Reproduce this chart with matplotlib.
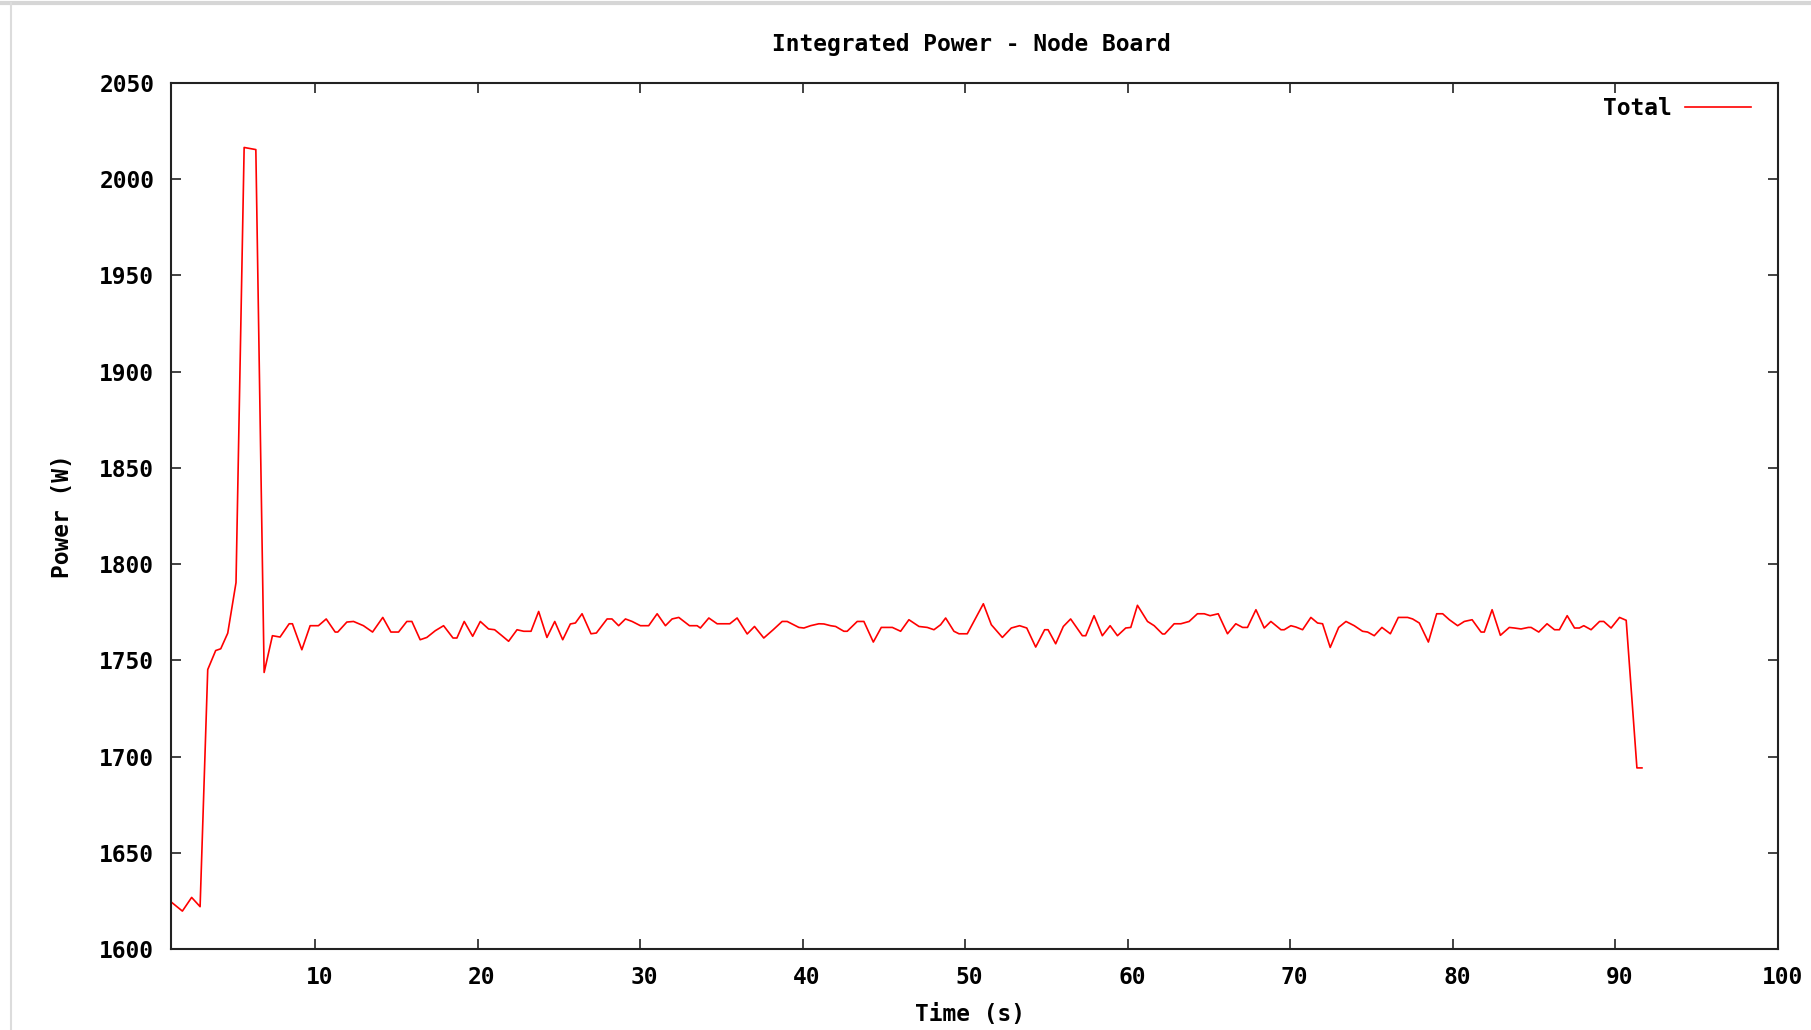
import matplotlib
matplotlib.use('Agg')
import matplotlib.pyplot as plt
import matplotlib.transforms as mtransforms
from matplotlib.lines import Line2D

# Node board power samples (time in s, power in W)
time_s = [1.13, 1.83, 2.40, 2.92, 3.39, 3.88, 4.19, 4.62, 5.13, 5.63, 6.35,
          6.86, 7.37, 7.84, 8.40, 8.60, 9.18, 9.69, 10.20, 10.68, 11.23, 11.39,
          11.95, 12.36, 12.97, 13.53, 14.16, 14.66, 15.13, 15.64, 15.95, 16.46,
          16.87, 17.39, 17.90, 18.48, 18.72, 19.17, 19.69, 20.16, 20.67, 21.04,
          21.49, 21.90, 22.42, 22.83, 23.28, 23.75, 24.26, 24.74, 25.23, 25.70,
          26.01, 26.42, 26.97, 27.30,
          27.96, 28.26, 28.67, 29.09, 29.50, 30.01, 30.52, 31.04, 31.55, 31.96,
          32.37, 33.03, 33.50, 33.70, 34.22, 34.73, 35.14, 35.51, 35.96, 36.58,
          37.03, 37.60, 38.18, 38.73, 39.04, 39.76, 40.07, 40.48, 40.99, 41.30,
          41.71, 42.02, 42.53, 42.73, 43.35, 43.76, 44.34, 44.83, 45.51, 46.02,
          46.53, 47.15, 47.66, 48.07,
          48.48, 48.79, 49.30, 49.61, 50.12, 50.64, 51.11, 51.60, 52.28, 52.83,
          53.34, 53.78, 54.33, 54.88, 55.09, 55.56, 56.03, 56.48, 57.20, 57.41,
          57.92, 58.43, 58.91, 59.36, 59.87, 60.18, 60.59, 61.21, 61.62, 62.13,
          62.27, 62.85, 63.26, 63.77, 64.28, 64.70, 65.06, 65.56, 66.13, 66.64,
          67.06, 67.36, 67.88, 68.39, 68.80, 69.42, 69.62,
          70.03, 70.34, 70.75, 71.26, 71.67, 71.98, 72.45, 72.97, 73.42, 73.93,
          74.44, 74.75, 75.16, 75.63, 76.15, 76.64, 77.21, 77.52, 77.93, 78.49,
          79.00, 79.37, 79.78, 80.29, 80.70, 81.18, 81.73, 81.93, 82.41, 82.92,
          83.47, 83.78, 84.19, 84.64, 84.81, 85.28, 85.79, 86.25, 86.55, 87.03,
          87.48, 87.78, 88.05, 88.50, 89.02, 89.28, 89.73, 90.25, 90.66, 91.32,
          91.63]

power_w = [1624.5, 1619.7, 1626.8, 1622.0, 1745.2, 1755.1, 1756.0, 1764.1, 1790.4, 2016.5, 2015.4,
           1743.7, 1762.8, 1762.1, 1769.0, 1769.0, 1755.5, 1768.0, 1768.0, 1771.5, 1764.7, 1764.7,
           1769.9, 1770.2, 1768.0, 1764.7, 1772.3, 1764.7, 1764.7, 1770.2, 1770.2, 1760.7,
           1761.9, 1765.4, 1768.0, 1761.6, 1761.6, 1770.2, 1762.5, 1770.2, 1766.3, 1765.9,
           1762.8, 1759.9, 1765.9, 1765.1, 1765.1, 1775.4, 1761.9, 1770.2, 1760.7, 1768.9,
           1769.4, 1774.2, 1763.8, 1764.2,
           1771.5, 1771.5, 1768.0, 1771.5, 1770.2, 1768.0, 1768.0, 1774.2, 1768.0, 1771.5,
           1772.3, 1768.0, 1768.0, 1766.8, 1772.0, 1769.0, 1769.0, 1769.0, 1772.0, 1763.7,
           1767.6, 1761.6, 1765.9, 1770.2, 1770.2, 1767.1, 1766.8, 1768.0, 1769.0, 1768.9,
           1768.0, 1767.6, 1765.1, 1765.1, 1770.2, 1770.2, 1759.5, 1767.1, 1767.1, 1765.1,
           1771.1, 1767.6, 1767.1, 1765.9,
           1768.5, 1772.0, 1765.1, 1763.8, 1763.8, 1772.0, 1779.4, 1768.5, 1761.9, 1766.8,
           1768.0, 1766.8, 1756.9, 1765.9, 1765.9, 1758.6, 1767.6, 1771.5, 1762.8, 1762.8,
           1773.2, 1762.8, 1768.0, 1762.8, 1766.8, 1767.1, 1778.6, 1770.2, 1768.0, 1763.7,
           1763.7, 1769.0, 1769.0, 1770.2, 1774.2, 1774.2, 1773.2, 1774.2, 1763.8, 1769.0,
           1767.1, 1767.1, 1776.3, 1766.8, 1770.2, 1765.9, 1765.9,
           1768.0, 1767.3, 1765.9, 1772.3, 1769.4, 1769.0, 1756.7, 1767.1, 1770.2, 1768.0,
           1765.1, 1764.7, 1762.8, 1767.1, 1763.8, 1772.3, 1772.3, 1771.5, 1769.4, 1759.5,
           1774.2, 1774.2, 1771.1, 1768.0, 1770.2, 1771.1, 1764.7, 1764.7, 1776.3, 1763.0,
           1767.1, 1766.8, 1766.3, 1767.1, 1767.1, 1764.7, 1769.0, 1765.9, 1765.9, 1773.2,
           1766.8, 1766.8, 1768.0, 1765.9, 1770.2, 1770.2, 1766.8, 1772.3, 1770.8, 1694.1,
           1694.1]

x_ticks = [10, 20, 30, 40, 50, 60, 70, 80, 90, 100]
y_ticks = [1600, 1650, 1700, 1750, 1800, 1850, 1900, 1950, 2000, 2050]

font = {'family': 'DejaVu Sans Mono', 'weight': 'bold', 'size': 16.5}
plt.rcParams['font.family'] = 'DejaVu Sans Mono'
plt.rcParams['font.weight'] = 'bold'

fig = plt.figure(figsize=(18.11, 10.30), dpi=100)
ax = fig.add_axes([171 / 1811, 1 - 949 / 1030, (1778 - 171) / 1811, (949 - 83) / 1030])

ax.plot(time_s, power_w, color='#ff0000', linewidth=1.2, label='Total')

ax.set_xlim(time_s[0], 100)
ax.set_ylim(1600, 2050)
ax.set_xticks(x_ticks)
ax.set_yticks(y_ticks)
ax.set_xticklabels([str(t) for t in x_ticks], fontdict=font)
ax.set_yticklabels([str(t) for t in y_ticks], fontdict=font)
ax.tick_params(axis='both', direction='in', length=7, width=1.2, color='#222222',
               top=True, right=True)
ax.tick_params(axis='x', pad=12)
ax.tick_params(axis='y', pad=12)
for s in ax.spines.values():
    s.set_linewidth(1.5)
    s.set_color('#222222')

# x labels sit a few pixels right of their ticks, as gnuplot draws them
shift = mtransforms.ScaledTranslation(4 / 100, 0, fig.dpi_scale_trans)
for lbl in ax.get_xticklabels():
    lbl.set_transform(lbl.get_transform() + shift)

# gnuplot-like key: text first, then the line sample
ax.legend(loc='upper right', bbox_to_anchor=(0.9835, 0.984), frameon=False,
          markerfirst=False, handlelength=2.9, handletextpad=0.6,
          borderpad=0, borderaxespad=0, prop=font)

fig.text(971 / 1811, 1 - 44 / 1030, 'Integrated Power - Node Board',
         ha='center', va='center', fontdict=font)
fig.text(970 / 1811, 1 - 1014 / 1030, 'Time (s)', ha='center', va='center', fontdict=font)
fig.text(62 / 1811, 1 - 516 / 1030, 'Power (W)', ha='center', va='center',
         rotation=90, fontdict=font)

# light window frame along the top and left edges
fig.add_artist(Line2D([0, 1], [1 - 3 / 1030, 1 - 3 / 1030], color='#d6d6d6', linewidth=3))
fig.add_artist(Line2D([11 / 1811, 11 / 1811], [0, 1 - 3 / 1030], color='#dcdcdc', linewidth=1.5))

fig.savefig('out.png', dpi=100)
